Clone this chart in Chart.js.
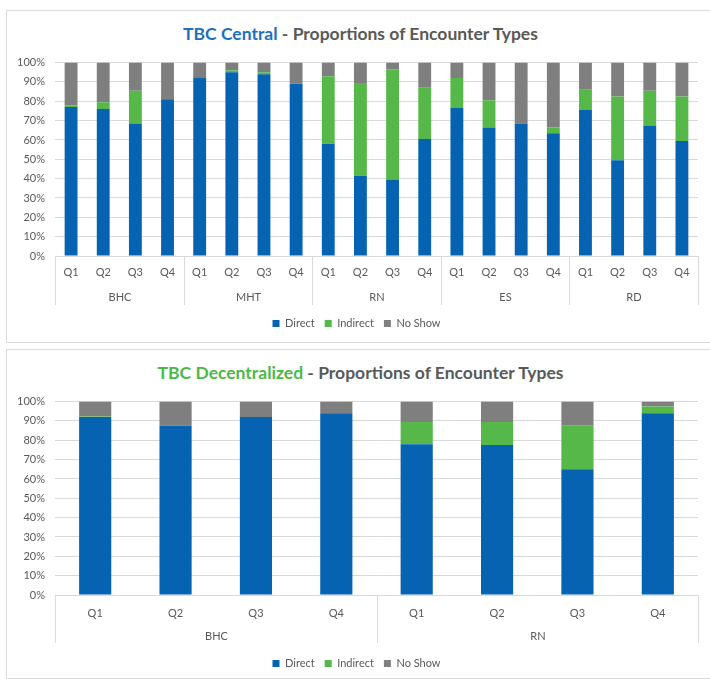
<!DOCTYPE html>
<html>
<head>
<meta charset="utf-8">
<script src="https://cdn.jsdelivr.net/npm/chart.js@4.4.1/dist/chart.umd.min.js"></script>
<style>
  html, body { margin:0; padding:0; background:#ffffff; }
  body { width:710px; height:679px; position:relative; overflow:hidden; font-family: Lato, "Open Sans", sans-serif; }
  .panel { position:absolute; border:1px solid #d9d9d9; background:#fff; }
  .title { position:absolute; left:0; right:0; text-align:center; font-weight:bold; font-size:17.5px; line-height:20px; color:#595959; white-space:nowrap; }
  .panel canvas { position:absolute; left:0; }
</style>
</head>
<body>
<div class="panel" style="left:6px; top:10px; width:707px; height:331px;">
  <div class="title" style="top:13px;"><span style="color:#1f6fc0">TBC Central</span> - Proportions of Encounter Types</div>
  <div style="position:absolute; left:0; top:35px; width:707px; height:293px;"><canvas id="c1"></canvas></div>
</div>
<div class="panel" style="left:6px; top:349px; width:707px; height:328px;">
  <div class="title" style="top:13px;"><span style="color:#4cb848">TBC Decentralized</span> - Proportions of Encounter Types</div>
  <div style="position:absolute; left:0; top:35px; width:707px; height:294px;"><canvas id="c2"></canvas></div>
</div>
<script>
// ---- Data ----
const quarters = ['Q1','Q2','Q3','Q4'];
const seriesNames = ['Direct','Indirect','No Show'];
const yTicks = [0,10,20,30,40,50,60,70,80,90,100];

// TBC Central
const centralGroups = ['BHC','MHT','RN','ES','RD'];
const centralDirect   = [77, 76, 68.5, 81,   92, 95, 94, 89,   58, 41.5, 39.5, 60.5,   76.5, 66.5, 68.5, 63.5,   75.5, 49.5, 67.5, 59.5];
const centralIndirect = [1, 3.5, 17, 0,      0, 1, 1, 0,       35, 48, 57, 26.5,       15.5, 14, 0, 3,           10.5, 33, 18, 23];
const centralNoShow   = [22, 20.5, 14.5, 19, 8, 4, 5, 11,      7, 10.5, 3.5, 13,       8, 19.5, 31.5, 33.5,      14, 17.5, 14.5, 17.5];

// TBC Decentralized
const decGroups = ['BHC','RN'];
const decDirect   = [92, 87.5, 92, 94,   78, 77.5, 65, 94];
const decIndirect = [0.3, 0, 0, 0,       11.5, 12, 22.5, 3.5];
const decNoShow   = [7.7, 12.5, 8, 6,    10.5, 10.5, 12.5, 2.5];

// ---- Styles ----
const COLORS = ['#0563b1', '#55b848', '#7f7f7f'];
const TEXT = '#595959';
const GRID = '#d9d9d9';
const FONT = 'Lato, "Open Sans", sans-serif';

const groupPlugin = {
  id: 'groupAxis',
  afterDraw(chart, args, opts) {
    const x = chart.scales.x;
    const ctx = chart.ctx;
    const groups = opts.groups;
    const per = opts.per;
    const y0 = x.top;
    ctx.save();
    ctx.strokeStyle = GRID;
    ctx.lineWidth = 1;
    const bounds = [];
    for (let g = 0; g <= groups.length; g++) {
      let px;
      if (g === 0) px = x.left;
      else if (g === groups.length) px = x.right;
      else px = (x.getPixelForValue(g*per - 1) + x.getPixelForValue(g*per)) / 2;
      px = Math.round(px) + 0.5;
      bounds.push(px);
      ctx.beginPath();
      ctx.moveTo(px, y0);
      ctx.lineTo(px, y0 + opts.sepLen);
      ctx.stroke();
    }
    ctx.fillStyle = TEXT;
    ctx.font = '11px ' + FONT;
    ctx.textAlign = 'center';
    ctx.textBaseline = 'middle';
    for (let g = 0; g < groups.length; g++) {
      ctx.fillText(groups[g], (bounds[g] + bounds[g+1]) / 2, y0 + opts.labelOffset);
    }
    ctx.restore();
  }
};

function makeChart(id, groups, direct, indirect, noshow, cfg) {
  const labels = [];
  groups.forEach(g => quarters.forEach(q => labels.push(q)));
  const data = [direct, indirect, noshow];
  return new Chart(document.getElementById(id), {
    type: 'bar',
    data: {
      labels: labels,
      datasets: seriesNames.map((n, i) => ({
        label: n,
        data: data[i],
        backgroundColor: COLORS[i],
        borderWidth: 0,
        categoryPercentage: 1.0,
        barPercentage: 0.4
      }))
    },
    plugins: [groupPlugin],
    options: {
      responsive: true,
      maintainAspectRatio: false,
      animation: false,
      layout: { padding: { top: 0, right: 16, bottom: 0, left: 8 } },
      plugins: {
        title: { display: false },
        tooltip: { enabled: false },
        legend: {
          display: true,
          position: 'bottom',
          labels: {
            boxWidth: 7, boxHeight: 7, padding: 10,
            color: TEXT,
            font: { family: FONT, size: 11 }
          }
        },
        groupAxis: { groups: groups, per: quarters.length, sepLen: cfg.sepLen, labelOffset: cfg.groupOffset }
      },
      scales: {
        x: {
          stacked: true,
          grid: { display: false, drawTicks: false },
          border: { display: false },
          ticks: { color: TEXT, font: { family: FONT, size: 11 }, padding: cfg.tickPad, maxRotation: 0, autoSkip: false },
          afterFit: (s) => { s.height = cfg.xHeight; }
        },
        y: {
          stacked: true,
          min: 0, max: 100,
          afterBuildTicks: (s) => { s.ticks = yTicks.map(v => ({ value: v })); },
          grid: { color: GRID, drawTicks: false, lineWidth: 1 },
          border: { display: false },
          ticks: { color: TEXT, font: { family: FONT, size: 11 }, padding: 10, callback: (v) => v + '%' },
          afterFit: (s) => { s.width = 40; }
        }
      }
    }
  });
}

makeChart('c1', centralGroups, centralDirect, centralIndirect, centralNoShow,
  { xHeight: 52, tickPad: 10, sepLen: 49, groupOffset: 41 });
makeChart('c2', decGroups, decDirect, decIndirect, decNoShow,
  { xHeight: 53, tickPad: 12, sepLen: 48, groupOffset: 41 });
</script>
</body>
</html>
